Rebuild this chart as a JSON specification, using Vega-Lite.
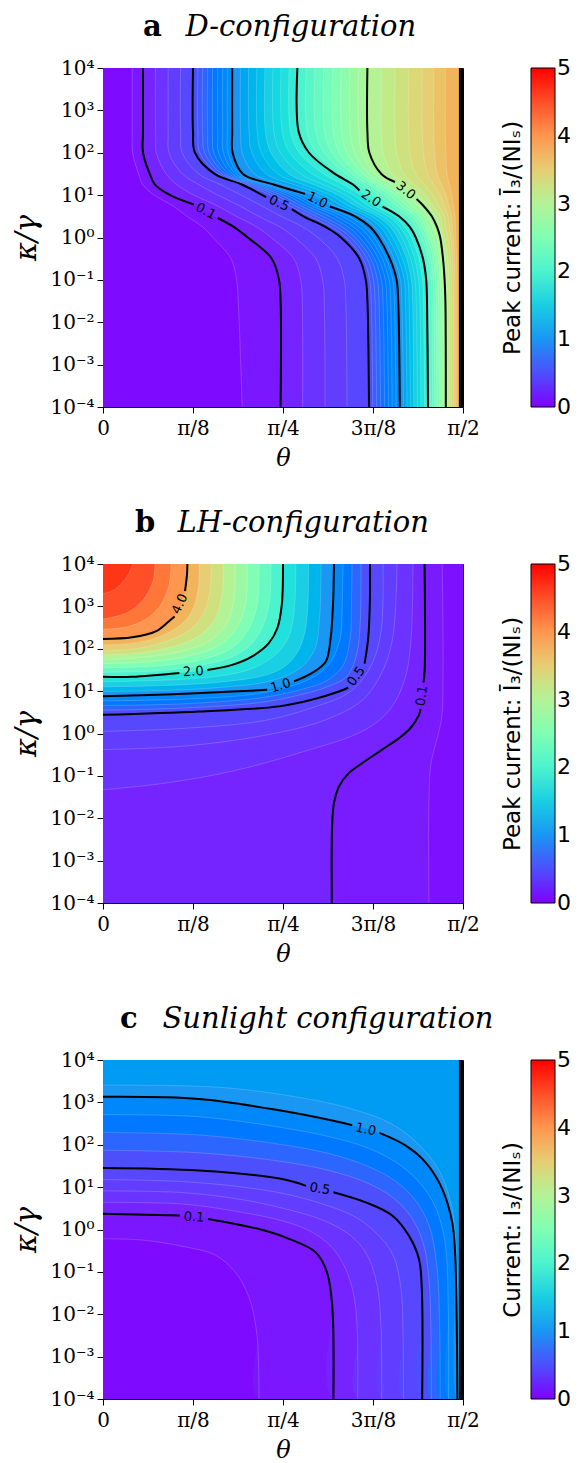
{
"$schema":"https://vega.github.io/schema/vega-lite/v6.json",
"background":"white",
"padding":{"left":12,"top":12,"right":0,"bottom":0},
"spacing":37,
"config":{
 "font":"DejaVu Sans",
 "view":{"stroke":"black","strokeWidth":1},
 "axis":{"grid":false,"domainColor":"black","domainWidth":1,"tickColor":"black","tickSize":6,"tickWidth":1,"labelFont":"DejaVu Serif","labelFontSize":20,"labelColor":"black","labelPadding":3,"labelFlush":false,"labelOverlap":false,"labelBound":false,"titleFont":"DejaVu Serif","titleFontStyle":"italic","titleFontWeight":"normal","titleFontSize":24,"titleColor":"black"},
 "axisY":{"titlePadding":8,"titleFontSize":29},
 "axisX":{"titlePadding":8,"labelPadding":5},
 "legend":{"direction":"vertical","gradientLength":339,"gradientThickness":24,"titleOrient":"left","titleAnchor":"middle","titleLimit":500,"titleFont":"DejaVu Sans","titleFontSize":23,"titleFontWeight":"normal","titleColor":"black","titlePadding":5,"labelFont":"DejaVu Sans","labelFontSize":22,"labelColor":"black","labelOffset":6,"labelBaseline":"middle","gradientStrokeColor":"black","gradientStrokeWidth":1,"offset":39},
 "title":{"font":"DejaVu Serif","fontSize":29,"fontWeight":"bold","color":"black","anchor":"start","frame":"group","subtitleFont":"DejaVu Serif","subtitleFontSize":29,"subtitleFontStyle":"italic","subtitleFontWeight":"normal","subtitleColor":"black","subtitlePadding":-29,"offset":16},
 "text":{"font":"DejaVu Sans","fontSize":13,"color":"black","align":"center","baseline":"middle"}
},
"datasets":{
"a":[
{"L":0.02,"t":0,"k":4},{"L":0.02,"t":0,"k":-4},
{"L":0.05,"t":7.3,"k":4},{"L":0.05,"t":7.3,"k":2.5},{"L":0.05,"t":7.4,"k":2},{"L":0.05,"t":8.9,"k":1.5},{"L":0.05,"t":9.9,"k":1.25},{"L":0.05,"t":12.8,"k":1},{"L":0.05,"t":17.4,"k":0.75},{"L":0.05,"t":21,"k":0.5},{"L":0.05,"t":24.9,"k":0.25},{"L":0.05,"t":27.5,"k":0},{"L":0.05,"t":32,"k":-0.5},{"L":0.05,"t":33.4,"k":-1},{"L":0.05,"t":33.8,"k":-1.5},{"L":0.05,"t":34.8,"k":-4},
{"L":0.1,"t":10,"k":4,"s":0},{"L":0.1,"t":10,"k":2.5,"s":0},{"L":0.1,"t":10,"k":2,"s":0},{"L":0.1,"t":11.7,"k":1.5,"s":0},{"L":0.1,"t":13,"k":1.25,"s":0},{"L":0.1,"t":16.8,"k":1,"s":0},{"L":0.1,"t":22.7,"k":0.78,"s":0},{"L":0.1,"t":28.7,"k":0.46,"s":1},{"L":0.1,"t":32.7,"k":0.25,"s":1},{"L":0.1,"t":36.2,"k":0,"s":1},{"L":0.1,"t":42.2,"k":-0.5,"s":1},{"L":0.1,"t":44,"k":-1,"s":1},{"L":0.1,"t":44.4,"k":-1.5,"s":1},{"L":0.1,"t":44.4,"k":-4,"s":1},
{"L":0.2,"t":13.1,"k":4},{"L":0.2,"t":13.1,"k":2.5},{"L":0.2,"t":13.3,"k":2},{"L":0.2,"t":15.8,"k":1.5},{"L":0.2,"t":18.4,"k":1.25},{"L":0.2,"t":22.7,"k":1},{"L":0.2,"t":28.5,"k":0.75},{"L":0.2,"t":33.3,"k":0.5},{"L":0.2,"t":38.4,"k":0.25},{"L":0.2,"t":42,"k":0},{"L":0.2,"t":47.7,"k":-0.5},{"L":0.2,"t":49.4,"k":-1},{"L":0.2,"t":49.8,"k":-1.5},{"L":0.2,"t":49.9,"k":-4},
{"L":0.3,"t":16.3,"k":4},{"L":0.3,"t":16.3,"k":2.5},{"L":0.3,"t":16.5,"k":2},{"L":0.3,"t":19.8,"k":1.5},{"L":0.3,"t":23.9,"k":1.25},{"L":0.3,"t":28.7,"k":1},{"L":0.3,"t":34.1,"k":0.75},{"L":0.3,"t":38.9,"k":0.5},{"L":0.3,"t":44.2,"k":0.25},{"L":0.3,"t":47.9,"k":0},{"L":0.3,"t":53.2,"k":-0.5},{"L":0.3,"t":54.9,"k":-1},{"L":0.3,"t":55.3,"k":-1.5},{"L":0.3,"t":55.5,"k":-4},
{"L":0.4,"t":19.4,"k":4},{"L":0.4,"t":19.4,"k":2.5},{"L":0.4,"t":19.8,"k":2},{"L":0.4,"t":23.9,"k":1.5},{"L":0.4,"t":29.3,"k":1.25},{"L":0.4,"t":34.6,"k":1},{"L":0.4,"t":39.6,"k":0.75},{"L":0.4,"t":44.5,"k":0.5},{"L":0.4,"t":49.9,"k":0.25},{"L":0.4,"t":53.7,"k":0},{"L":0.4,"t":58.6,"k":-0.5},{"L":0.4,"t":60.3,"k":-1},{"L":0.4,"t":60.7,"k":-1.5},{"L":0.4,"t":61,"k":-4},
{"L":0.5,"t":22.5,"k":4,"s":0},{"L":0.5,"t":22.5,"k":2.5,"s":0},{"L":0.5,"t":23,"k":2,"s":0},{"L":0.5,"t":27.9,"k":1.5,"s":0},{"L":0.5,"t":34.7,"k":1.25,"s":0},{"L":0.5,"t":40.8,"k":0.95,"s":0},{"L":0.5,"t":47.2,"k":0.67,"s":1},{"L":0.5,"t":50.1,"k":0.5,"s":1},{"L":0.5,"t":55.6,"k":0.25,"s":1},{"L":0.5,"t":59.5,"k":0,"s":1},{"L":0.5,"t":64.1,"k":-0.5,"s":1},{"L":0.5,"t":65.7,"k":-1,"s":1},{"L":0.5,"t":66.1,"k":-1.5,"s":1},{"L":0.5,"t":66.5,"k":-4,"s":1},
{"L":0.5625,"t":23.7,"k":4},{"L":0.5625,"t":23.7,"k":2.5},{"L":0.5625,"t":24.2,"k":2},{"L":0.5625,"t":28.8,"k":1.5},{"L":0.5625,"t":35.7,"k":1.25},{"L":0.5625,"t":41.85,"k":1},{"L":0.5625,"t":46.6,"k":0.75},{"L":0.5625,"t":51.7,"k":0.5},{"L":0.5625,"t":57,"k":0.25},{"L":0.5625,"t":60.7,"k":0},{"L":0.5625,"t":65.05,"k":-0.5},{"L":0.5625,"t":66.65,"k":-1},{"L":0.5625,"t":67.05,"k":-1.5},{"L":0.5625,"t":67.45,"k":-4},
{"L":0.625,"t":24.9,"k":4},{"L":0.625,"t":24.9,"k":2.5},{"L":0.625,"t":25.4,"k":2},{"L":0.625,"t":29.7,"k":1.5},{"L":0.625,"t":36.7,"k":1.25},{"L":0.625,"t":43.2,"k":1},{"L":0.625,"t":48,"k":0.75},{"L":0.625,"t":53.3,"k":0.5},{"L":0.625,"t":58.4,"k":0.25},{"L":0.625,"t":61.9,"k":0},{"L":0.625,"t":66,"k":-0.5},{"L":0.625,"t":67.6,"k":-1},{"L":0.625,"t":68,"k":-1.5},{"L":0.625,"t":68.4,"k":-4},
{"L":0.6875,"t":26.15,"k":4},{"L":0.6875,"t":26.15,"k":2.5},{"L":0.6875,"t":26.55,"k":2},{"L":0.6875,"t":30.6,"k":1.5},{"L":0.6875,"t":37.7,"k":1.25},{"L":0.6875,"t":44.55,"k":1},{"L":0.6875,"t":49.4,"k":0.75},{"L":0.6875,"t":54.95,"k":0.5},{"L":0.6875,"t":59.8,"k":0.25},{"L":0.6875,"t":63.05,"k":0},{"L":0.6875,"t":66.95,"k":-0.5},{"L":0.6875,"t":68.6,"k":-1},{"L":0.6875,"t":69,"k":-1.5},{"L":0.6875,"t":69.4,"k":-4},
{"L":0.75,"t":27.4,"k":4},{"L":0.75,"t":27.4,"k":2.5},{"L":0.75,"t":27.7,"k":2},{"L":0.75,"t":31.5,"k":1.5},{"L":0.75,"t":38.7,"k":1.25},{"L":0.75,"t":45.9,"k":1},{"L":0.75,"t":50.8,"k":0.75},{"L":0.75,"t":56.6,"k":0.5},{"L":0.75,"t":61.2,"k":0.25},{"L":0.75,"t":64.2,"k":0},{"L":0.75,"t":67.9,"k":-0.5},{"L":0.75,"t":69.6,"k":-1},{"L":0.75,"t":70,"k":-1.5},{"L":0.75,"t":70.4,"k":-4},
{"L":0.8125,"t":28.65,"k":4},{"L":0.8125,"t":28.65,"k":2.5},{"L":0.8125,"t":28.9,"k":2},{"L":0.8125,"t":32.35,"k":1.5},{"L":0.8125,"t":39.65,"k":1.25},{"L":0.8125,"t":47.2,"k":1},{"L":0.8125,"t":52.15,"k":0.75},{"L":0.8125,"t":58.2,"k":0.5},{"L":0.8125,"t":62.6,"k":0.25},{"L":0.8125,"t":65.4,"k":0},{"L":0.8125,"t":68.85,"k":-0.5},{"L":0.8125,"t":70.55,"k":-1},{"L":0.8125,"t":70.95,"k":-1.5},{"L":0.8125,"t":71.35,"k":-4},
{"L":0.875,"t":29.9,"k":4},{"L":0.875,"t":29.9,"k":2.5},{"L":0.875,"t":30.1,"k":2},{"L":0.875,"t":33.2,"k":1.5},{"L":0.875,"t":40.6,"k":1.25},{"L":0.875,"t":48.5,"k":1},{"L":0.875,"t":53.5,"k":0.75},{"L":0.875,"t":59.8,"k":0.5},{"L":0.875,"t":64,"k":0.25},{"L":0.875,"t":66.6,"k":0},{"L":0.875,"t":69.8,"k":-0.5},{"L":0.875,"t":71.5,"k":-1},{"L":0.875,"t":71.9,"k":-1.5},{"L":0.875,"t":72.3,"k":-4},
{"L":0.9375,"t":31.1,"k":4},{"L":0.9375,"t":31.1,"k":2.5},{"L":0.9375,"t":31.25,"k":2},{"L":0.9375,"t":34.1,"k":1.5},{"L":0.9375,"t":41.6,"k":1.25},{"L":0.9375,"t":49.85,"k":1},{"L":0.9375,"t":54.9,"k":0.75},{"L":0.9375,"t":61.4,"k":0.5},{"L":0.9375,"t":65.4,"k":0.25},{"L":0.9375,"t":67.75,"k":0},{"L":0.9375,"t":70.75,"k":-0.5},{"L":0.9375,"t":72.45,"k":-1},{"L":0.9375,"t":72.85,"k":-1.5},{"L":0.9375,"t":73.25,"k":-4},
{"L":1,"t":32.3,"k":4,"s":0},{"L":1,"t":32.3,"k":2.5,"s":0},{"L":1,"t":32.4,"k":2,"s":0},{"L":1,"t":35,"k":1.5,"s":0},{"L":1,"t":42.6,"k":1.25,"s":0},{"L":1,"t":50.5,"k":1.03,"s":0},{"L":1,"t":56.7,"k":0.73,"s":1},{"L":1,"t":63,"k":0.5,"s":1},{"L":1,"t":66.8,"k":0.25,"s":1},{"L":1,"t":68.9,"k":0,"s":1},{"L":1,"t":71.7,"k":-0.5,"s":1},{"L":1,"t":73.4,"k":-1,"s":1},{"L":1,"t":73.8,"k":-1.5,"s":1},{"L":1,"t":74.2,"k":-4,"s":1},
{"L":1.125,"t":34.35,"k":4},{"L":1.125,"t":34.4,"k":2.5},{"L":1.125,"t":34.8,"k":2},{"L":1.125,"t":37.9,"k":1.5},{"L":1.125,"t":45.1,"k":1.25},{"L":1.125,"t":53.1,"k":1},{"L":1.125,"t":57.95,"k":0.75},{"L":1.125,"t":64.4,"k":0.5},{"L":1.125,"t":68.05,"k":0.25},{"L":1.125,"t":70.05,"k":0},{"L":1.125,"t":72.75,"k":-0.5},{"L":1.125,"t":74.35,"k":-1},{"L":1.125,"t":74.7,"k":-1.5},{"L":1.125,"t":75.1,"k":-4},
{"L":1.25,"t":36.4,"k":4},{"L":1.25,"t":36.5,"k":2.5},{"L":1.25,"t":37.2,"k":2},{"L":1.25,"t":40.8,"k":1.5},{"L":1.25,"t":47.6,"k":1.25},{"L":1.25,"t":55,"k":1},{"L":1.25,"t":59.6,"k":0.75},{"L":1.25,"t":65.8,"k":0.5},{"L":1.25,"t":69.3,"k":0.25},{"L":1.25,"t":71.2,"k":0},{"L":1.25,"t":73.8,"k":-0.5},{"L":1.25,"t":75.3,"k":-1},{"L":1.25,"t":75.6,"k":-1.5},{"L":1.25,"t":76,"k":-4},
{"L":1.375,"t":38.45,"k":4},{"L":1.375,"t":38.55,"k":2.5},{"L":1.375,"t":39.6,"k":2},{"L":1.375,"t":43.65,"k":1.5},{"L":1.375,"t":50.1,"k":1.25},{"L":1.375,"t":56.9,"k":1},{"L":1.375,"t":61.3,"k":0.75},{"L":1.375,"t":67.15,"k":0.5},{"L":1.375,"t":70.55,"k":0.25},{"L":1.375,"t":72.4,"k":0},{"L":1.375,"t":74.85,"k":-0.5},{"L":1.375,"t":76.2,"k":-1},{"L":1.375,"t":76.5,"k":-1.5},{"L":1.375,"t":76.85,"k":-4},
{"L":1.5,"t":40.5,"k":4},{"L":1.5,"t":40.6,"k":2.5},{"L":1.5,"t":42,"k":2},{"L":1.5,"t":46.5,"k":1.5},{"L":1.5,"t":52.6,"k":1.25},{"L":1.5,"t":58.8,"k":1},{"L":1.5,"t":63,"k":0.75},{"L":1.5,"t":68.5,"k":0.5},{"L":1.5,"t":71.8,"k":0.25},{"L":1.5,"t":73.6,"k":0},{"L":1.5,"t":75.9,"k":-0.5},{"L":1.5,"t":77.1,"k":-1},{"L":1.5,"t":77.4,"k":-1.5},{"L":1.5,"t":77.7,"k":-4},
{"L":1.625,"t":42.5,"k":4},{"L":1.625,"t":42.7,"k":2.5},{"L":1.625,"t":44.35,"k":2},{"L":1.625,"t":49.4,"k":1.5},{"L":1.625,"t":55.05,"k":1.25},{"L":1.625,"t":60.7,"k":1},{"L":1.625,"t":64.65,"k":0.75},{"L":1.625,"t":69.9,"k":0.5},{"L":1.625,"t":73,"k":0.25},{"L":1.625,"t":74.75,"k":0},{"L":1.625,"t":76.9,"k":-0.5},{"L":1.625,"t":78,"k":-1},{"L":1.625,"t":78.3,"k":-1.5},{"L":1.625,"t":78.6,"k":-4},
{"L":1.75,"t":44.5,"k":4},{"L":1.75,"t":44.8,"k":2.5},{"L":1.75,"t":46.7,"k":2},{"L":1.75,"t":52.3,"k":1.5},{"L":1.75,"t":57.5,"k":1.25},{"L":1.75,"t":62.6,"k":1},{"L":1.75,"t":66.3,"k":0.75},{"L":1.75,"t":71.3,"k":0.5},{"L":1.75,"t":74.2,"k":0.25},{"L":1.75,"t":75.9,"k":0},{"L":1.75,"t":77.9,"k":-0.5},{"L":1.75,"t":78.9,"k":-1},{"L":1.75,"t":79.2,"k":-1.5},{"L":1.75,"t":79.5,"k":-4},
{"L":1.875,"t":46.55,"k":4},{"L":1.875,"t":46.85,"k":2.5},{"L":1.875,"t":49.1,"k":2},{"L":1.875,"t":55.15,"k":1.5},{"L":1.875,"t":60,"k":1.25},{"L":1.875,"t":64.45,"k":1},{"L":1.875,"t":67.95,"k":0.75},{"L":1.875,"t":72.65,"k":0.5},{"L":1.875,"t":75.45,"k":0.25},{"L":1.875,"t":77.05,"k":0},{"L":1.875,"t":78.95,"k":-0.5},{"L":1.875,"t":79.85,"k":-1},{"L":1.875,"t":80.1,"k":-1.5},{"L":1.875,"t":80.4,"k":-4},
{"L":2,"t":48.6,"k":4,"s":0},{"L":2,"t":48.9,"k":2.5,"s":0},{"L":2,"t":51.5,"k":2,"s":0},{"L":2,"t":58,"k":1.5,"s":0},{"L":2,"t":62.5,"k":1.25,"s":0},{"L":2,"t":64.1,"k":1.11,"s":0},{"L":2,"t":69.9,"k":0.73,"s":1},{"L":2,"t":74,"k":0.5,"s":1},{"L":2,"t":76.7,"k":0.25,"s":1},{"L":2,"t":78.2,"k":0,"s":1},{"L":2,"t":80,"k":-0.5,"s":1},{"L":2,"t":80.8,"k":-1,"s":1},{"L":2,"t":81,"k":-1.5,"s":1},{"L":2,"t":81.25,"k":-4,"s":1},
{"L":2.125,"t":50.8,"k":4},{"L":2.125,"t":51.05,"k":2.5},{"L":2.125,"t":53.4,"k":2},{"L":2.125,"t":59.4,"k":1.5},{"L":2.125,"t":63.85,"k":1.25},{"L":2.125,"t":67.65,"k":1},{"L":2.125,"t":70.85,"k":0.75},{"L":2.125,"t":75.05,"k":0.5},{"L":2.125,"t":77.5,"k":0.25},{"L":2.125,"t":78.9,"k":0},{"L":2.125,"t":80.65,"k":-0.5},{"L":2.125,"t":81.4,"k":-1},{"L":2.125,"t":81.6,"k":-1.5},{"L":2.125,"t":81.8,"k":-4},
{"L":2.25,"t":53,"k":4},{"L":2.25,"t":53.2,"k":2.5},{"L":2.25,"t":55.3,"k":2},{"L":2.25,"t":60.8,"k":1.5},{"L":2.25,"t":65.2,"k":1.25},{"L":2.25,"t":69,"k":1},{"L":2.25,"t":72.1,"k":0.75},{"L":2.25,"t":76.1,"k":0.5},{"L":2.25,"t":78.3,"k":0.25},{"L":2.25,"t":79.6,"k":0},{"L":2.25,"t":81.3,"k":-0.5},{"L":2.25,"t":82,"k":-1},{"L":2.25,"t":82.2,"k":-1.5},{"L":2.25,"t":82.4,"k":-4},
{"L":2.375,"t":55.2,"k":4},{"L":2.375,"t":55.35,"k":2.5},{"L":2.375,"t":57.2,"k":2},{"L":2.375,"t":62.25,"k":1.5},{"L":2.375,"t":66.55,"k":1.25},{"L":2.375,"t":70.4,"k":1},{"L":2.375,"t":73.4,"k":0.75},{"L":2.375,"t":77.15,"k":0.5},{"L":2.375,"t":79.1,"k":0.25},{"L":2.375,"t":80.35,"k":0},{"L":2.375,"t":81.9,"k":-0.5},{"L":2.375,"t":82.55,"k":-1},{"L":2.375,"t":82.75,"k":-1.5},{"L":2.375,"t":82.95,"k":-4},
{"L":2.5,"t":57.4,"k":4},{"L":2.5,"t":57.5,"k":2.5},{"L":2.5,"t":59.1,"k":2},{"L":2.5,"t":63.7,"k":1.5},{"L":2.5,"t":67.9,"k":1.25},{"L":2.5,"t":71.8,"k":1},{"L":2.5,"t":74.7,"k":0.75},{"L":2.5,"t":78.2,"k":0.5},{"L":2.5,"t":79.9,"k":0.25},{"L":2.5,"t":81.1,"k":0},{"L":2.5,"t":82.5,"k":-0.5},{"L":2.5,"t":83.1,"k":-1},{"L":2.5,"t":83.3,"k":-1.5},{"L":2.5,"t":83.5,"k":-4},
{"L":2.625,"t":59.55,"k":4},{"L":2.625,"t":59.65,"k":2.5},{"L":2.625,"t":61,"k":2},{"L":2.625,"t":65.1,"k":1.5},{"L":2.625,"t":69.2,"k":1.25},{"L":2.625,"t":73.15,"k":1},{"L":2.625,"t":75.95,"k":0.75},{"L":2.625,"t":79.2,"k":0.5},{"L":2.625,"t":80.65,"k":0.25},{"L":2.625,"t":81.8,"k":0},{"L":2.625,"t":83.15,"k":-0.5},{"L":2.625,"t":83.7,"k":-1},{"L":2.625,"t":83.9,"k":-1.5},{"L":2.625,"t":84.05,"k":-4},
{"L":2.75,"t":61.7,"k":4},{"L":2.75,"t":61.8,"k":2.5},{"L":2.75,"t":62.9,"k":2},{"L":2.75,"t":66.5,"k":1.5},{"L":2.75,"t":70.5,"k":1.25},{"L":2.75,"t":74.5,"k":1},{"L":2.75,"t":77.2,"k":0.75},{"L":2.75,"t":80.2,"k":0.5},{"L":2.75,"t":81.4,"k":0.25},{"L":2.75,"t":82.5,"k":0},{"L":2.75,"t":83.8,"k":-0.5},{"L":2.75,"t":84.3,"k":-1},{"L":2.75,"t":84.5,"k":-1.5},{"L":2.75,"t":84.6,"k":-4},
{"L":2.875,"t":63.9,"k":4},{"L":2.875,"t":63.95,"k":2.5},{"L":2.875,"t":64.75,"k":2},{"L":2.875,"t":68.05,"k":1.5},{"L":2.875,"t":72.15,"k":1.25},{"L":2.875,"t":75.8,"k":1},{"L":2.875,"t":78.65,"k":0.75},{"L":2.875,"t":81.2,"k":0.5},{"L":2.875,"t":82.45,"k":0.25},{"L":2.875,"t":83.4,"k":0},{"L":2.875,"t":84.4,"k":-0.5},{"L":2.875,"t":84.85,"k":-1},{"L":2.875,"t":85.05,"k":-1.5},{"L":2.875,"t":85.15,"k":-4},
{"L":3,"t":66.1,"k":4,"s":0},{"L":3,"t":66.1,"k":2.5,"s":0},{"L":3,"t":66.6,"k":2,"s":0},{"L":3,"t":69.6,"k":1.5,"s":0},{"L":3,"t":73,"k":1.31,"s":0},{"L":3,"t":78.4,"k":0.91,"s":1},{"L":3,"t":80.1,"k":0.75,"s":1},{"L":3,"t":82.2,"k":0.5,"s":1},{"L":3,"t":83.5,"k":0.25,"s":1},{"L":3,"t":84.3,"k":0,"s":1},{"L":3,"t":85,"k":-0.5,"s":1},{"L":3,"t":85.4,"k":-1,"s":1},{"L":3,"t":85.6,"k":-1.5,"s":1},{"L":3,"t":85.7,"k":-4,"s":1},
{"L":3.125,"t":69.55,"k":4},{"L":3.125,"t":69.55,"k":2.5},{"L":3.125,"t":70,"k":2},{"L":3.125,"t":72.4,"k":1.5},{"L":3.125,"t":75.85,"k":1.25},{"L":3.125,"t":78.9,"k":1},{"L":3.125,"t":81.3,"k":0.75},{"L":3.125,"t":83.25,"k":0.5},{"L":3.125,"t":84.15,"k":0.25},{"L":3.125,"t":84.85,"k":0},{"L":3.125,"t":85.6,"k":-0.5},{"L":3.125,"t":85.95,"k":-1},{"L":3.125,"t":86.1,"k":-1.5},{"L":3.125,"t":86.2,"k":-4},
{"L":3.25,"t":73,"k":4},{"L":3.25,"t":73,"k":2.5},{"L":3.25,"t":73.4,"k":2},{"L":3.25,"t":75.2,"k":1.5},{"L":3.25,"t":77.9,"k":1.25},{"L":3.25,"t":80.7,"k":1},{"L":3.25,"t":82.5,"k":0.75},{"L":3.25,"t":84.3,"k":0.5},{"L":3.25,"t":84.8,"k":0.25},{"L":3.25,"t":85.4,"k":0},{"L":3.25,"t":86.2,"k":-0.5},{"L":3.25,"t":86.5,"k":-1},{"L":3.25,"t":86.6,"k":-1.5},{"L":3.25,"t":86.7,"k":-4},
{"L":3.375,"t":76.4,"k":4},{"L":3.375,"t":76.4,"k":2.5},{"L":3.375,"t":76.75,"k":2},{"L":3.375,"t":78.15,"k":1.5},{"L":3.375,"t":80.3,"k":1.25},{"L":3.375,"t":82.5,"k":1},{"L":3.375,"t":83.9,"k":0.75},{"L":3.375,"t":85.3,"k":0.5},{"L":3.375,"t":85.7,"k":0.25},{"L":3.375,"t":86.2,"k":0},{"L":3.375,"t":86.8,"k":-0.5},{"L":3.375,"t":87.05,"k":-1},{"L":3.375,"t":87.1,"k":-1.5},{"L":3.375,"t":87.2,"k":-4},
{"L":3.5,"t":79.8,"k":4},{"L":3.5,"t":79.8,"k":2.5},{"L":3.5,"t":80.1,"k":2},{"L":3.5,"t":81.1,"k":1.5},{"L":3.5,"t":82.7,"k":1.25},{"L":3.5,"t":84.3,"k":1},{"L":3.5,"t":85.3,"k":0.75},{"L":3.5,"t":86.3,"k":0.5},{"L":3.5,"t":86.6,"k":0.25},{"L":3.5,"t":87,"k":0},{"L":3.5,"t":87.4,"k":-0.5},{"L":3.5,"t":87.6,"k":-1},{"L":3.5,"t":87.6,"k":-1.5},{"L":3.5,"t":87.7,"k":-4},
{"L":3.625,"t":82.7,"k":4},{"L":3.625,"t":82.7,"k":2.5},{"L":3.625,"t":82.9,"k":2},{"L":3.625,"t":83.55,"k":1.5},{"L":3.625,"t":84.65,"k":1.25},{"L":3.625,"t":85.75,"k":1},{"L":3.625,"t":86.45,"k":0.75},{"L":3.625,"t":87.15,"k":0.5},{"L":3.625,"t":87.35,"k":0.25},{"L":3.625,"t":87.6,"k":0},{"L":3.625,"t":87.9,"k":-0.5},{"L":3.625,"t":88.05,"k":-1},{"L":3.625,"t":88.05,"k":-1.5},{"L":3.625,"t":88.1,"k":-4},
{"L":3.75,"t":85.6,"k":4},{"L":3.75,"t":85.6,"k":2.5},{"L":3.75,"t":85.7,"k":2},{"L":3.75,"t":86,"k":1.5},{"L":3.75,"t":86.6,"k":1.25},{"L":3.75,"t":87.2,"k":1},{"L":3.75,"t":87.6,"k":0.75},{"L":3.75,"t":88,"k":0.5},{"L":3.75,"t":88.1,"k":0.25},{"L":3.75,"t":88.2,"k":0},{"L":3.75,"t":88.4,"k":-0.5},{"L":3.75,"t":88.5,"k":-1},{"L":3.75,"t":88.5,"k":-1.5},{"L":3.75,"t":88.5,"k":-4}
],
"b":[
{"L":0.03,"t":90,"k":4},{"L":0.03,"t":90,"k":-4},
{"L":0.06,"t":84.8,"k":4},{"L":0.06,"t":84.8,"k":0.5},{"L":0.06,"t":84.1,"k":0.09},{"L":0.06,"t":82,"k":-0.7},{"L":0.06,"t":81.5,"k":-1.5},{"L":0.06,"t":81.5,"k":-4},
{"L":0.1,"t":80.4,"k":4,"s":0},{"L":0.1,"t":80.4,"k":1.47,"s":0},{"L":0.1,"t":80.1,"k":1.2,"s":0},{"L":0.1,"t":79.4,"k":0.58,"s":1},{"L":0.1,"t":79,"k":0.44,"s":1},{"L":0.1,"t":76.9,"k":0.13,"s":1},{"L":0.1,"t":74,"k":-0.11,"s":1},{"L":0.1,"t":69.8,"k":-0.38,"s":1},{"L":0.1,"t":64.8,"k":-0.7,"s":1},{"L":0.1,"t":61.5,"k":-0.93,"s":1},{"L":0.1,"t":59,"k":-1.25,"s":1},{"L":0.1,"t":57.75,"k":-1.64,"s":1},{"L":0.1,"t":57.3,"k":-2.11,"s":1},{"L":0.1,"t":57.2,"k":-4,"s":1},
{"L":0.2,"t":0,"k":-1.33},{"L":0.2,"t":15.7,"k":-1.17},{"L":0.2,"t":32.3,"k":-0.89},{"L":0.2,"t":49,"k":-0.46},{"L":0.2,"t":65.6,"k":0.09},{"L":0.2,"t":72,"k":0.6},{"L":0.2,"t":75.5,"k":1.3},{"L":0.2,"t":77,"k":2.2},{"L":0.2,"t":77.5,"k":4},
{"L":0.3,"t":0,"k":-0.38},{"L":0.3,"t":20,"k":-0.3},{"L":0.3,"t":40,"k":-0.05},{"L":0.3,"t":55,"k":0.3},{"L":0.3,"t":65,"k":0.8},{"L":0.3,"t":70,"k":1.5},{"L":0.3,"t":72.5,"k":2.3},{"L":0.3,"t":73.5,"k":4},
{"L":0.4,"t":0,"k":0.05},{"L":0.4,"t":20,"k":0.12},{"L":0.4,"t":40,"k":0.3},{"L":0.4,"t":52,"k":0.6},{"L":0.4,"t":62,"k":1},{"L":0.4,"t":67,"k":1.6},{"L":0.4,"t":69.5,"k":2.4},{"L":0.4,"t":70,"k":4},
{"L":0.5,"t":0,"k":0.44,"s":0},{"L":0.5,"t":24,"k":0.52,"s":0},{"L":0.5,"t":44,"k":0.64,"s":0},{"L":0.5,"t":52.3,"k":0.8,"s":0},{"L":0.5,"t":59,"k":0.99,"s":0},{"L":0.5,"t":61.3,"k":1.08,"s":0},{"L":0.5,"t":65.4,"k":1.65,"s":1},{"L":0.5,"t":66.3,"k":2.25,"s":1},{"L":0.5,"t":66.7,"k":3.04,"s":1},{"L":0.5,"t":66.75,"k":4,"s":1},
{"L":0.625,"t":0,"k":0.55},{"L":0.625,"t":20,"k":0.6},{"L":0.625,"t":40,"k":0.74},{"L":0.625,"t":50,"k":0.93},{"L":0.625,"t":56,"k":1.1},{"L":0.625,"t":61,"k":1.35},{"L":0.625,"t":63.5,"k":1.9},{"L":0.625,"t":64.3,"k":2.6},{"L":0.625,"t":64.5,"k":4},
{"L":0.75,"t":0,"k":0.66},{"L":0.75,"t":20,"k":0.7},{"L":0.75,"t":40,"k":0.85},{"L":0.75,"t":50,"k":1.05},{"L":0.75,"t":56,"k":1.25},{"L":0.75,"t":60,"k":1.6},{"L":0.75,"t":61.8,"k":2.25},{"L":0.75,"t":62.1,"k":3},{"L":0.75,"t":62.25,"k":4},
{"L":0.875,"t":0,"k":0.77},{"L":0.875,"t":20,"k":0.81},{"L":0.875,"t":38,"k":0.93},{"L":0.875,"t":47,"k":1.12},{"L":0.875,"t":53,"k":1.35},{"L":0.875,"t":57,"k":1.7},{"L":0.875,"t":59.3,"k":2.25},{"L":0.875,"t":59.8,"k":3},{"L":0.875,"t":60,"k":4},
{"L":1,"t":0,"k":0.88,"s":0},{"L":1,"t":15.7,"k":0.92,"s":0},{"L":1,"t":32.3,"k":0.99,"s":0},{"L":1,"t":41.05,"k":1.03,"s":0},{"L":1,"t":47.75,"k":1.23,"s":1},{"L":1,"t":52.3,"k":1.43,"s":1},{"L":1,"t":55.7,"k":1.7,"s":1},{"L":1,"t":56.9,"k":2.25,"s":1},{"L":1,"t":57.5,"k":3.04,"s":1},{"L":1,"t":57.75,"k":4,"s":1},
{"L":1.25,"t":0,"k":0.99},{"L":1.25,"t":20,"k":1.03},{"L":1.25,"t":32,"k":1.11},{"L":1.25,"t":40,"k":1.2},{"L":1.25,"t":46,"k":1.37},{"L":1.25,"t":50,"k":1.6},{"L":1.25,"t":53,"k":2},{"L":1.25,"t":54.2,"k":2.8},{"L":1.25,"t":54.5,"k":4},
{"L":1.5,"t":0,"k":1.1},{"L":1.5,"t":20,"k":1.15},{"L":1.5,"t":32,"k":1.24},{"L":1.5,"t":40,"k":1.36},{"L":1.5,"t":45,"k":1.55},{"L":1.5,"t":48.5,"k":1.9},{"L":1.5,"t":50.5,"k":2.4},{"L":1.5,"t":51.3,"k":3.2},{"L":1.5,"t":51.4,"k":4},
{"L":1.75,"t":0,"k":1.22},{"L":1.75,"t":20,"k":1.28},{"L":1.75,"t":32,"k":1.4},{"L":1.75,"t":38,"k":1.56},{"L":1.75,"t":43,"k":1.85},{"L":1.75,"t":46.3,"k":2.25},{"L":1.75,"t":47.8,"k":2.9},{"L":1.75,"t":48.2,"k":4},
{"L":2,"t":0,"k":1.34,"s":0},{"L":2,"t":7.3,"k":1.34,"s":0},{"L":2,"t":19.1,"k":1.43,"s":0},{"L":2,"t":26.1,"k":1.5,"s":1},{"L":2,"t":32.3,"k":1.62,"s":1},{"L":2,"t":37.3,"k":1.82,"s":1},{"L":2,"t":41.5,"k":2.14,"s":1},{"L":2,"t":43.6,"k":2.49,"s":1},{"L":2,"t":44.7,"k":3.04,"s":1},{"L":2,"t":45,"k":4,"s":1},
{"L":2.25,"t":0,"k":1.445},{"L":2.25,"t":15,"k":1.49},{"L":2.25,"t":25,"k":1.62},{"L":2.25,"t":32,"k":1.8},{"L":2.25,"t":37,"k":2.1},{"L":2.25,"t":40,"k":2.55},{"L":2.25,"t":41.6,"k":3.1},{"L":2.25,"t":42,"k":4},
{"L":2.5,"t":0,"k":1.55},{"L":2.5,"t":15,"k":1.6},{"L":2.5,"t":25,"k":1.75},{"L":2.5,"t":32,"k":2},{"L":2.5,"t":36,"k":2.4},{"L":2.5,"t":38.5,"k":3},{"L":2.5,"t":39,"k":4},
{"L":2.75,"t":0,"k":1.65},{"L":2.75,"t":12,"k":1.7},{"L":2.75,"t":22,"k":1.84},{"L":2.75,"t":29,"k":2.08},{"L":2.75,"t":33.5,"k":2.5},{"L":2.75,"t":35.7,"k":3.1},{"L":2.75,"t":36,"k":4},
{"L":3,"t":0,"k":1.75},{"L":3,"t":10,"k":1.8},{"L":3,"t":20,"k":1.95},{"L":3,"t":27,"k":2.2},{"L":3,"t":31,"k":2.6},{"L":3,"t":32.8,"k":3.2},{"L":3,"t":33,"k":4},
{"L":3.25,"t":0,"k":1.85},{"L":3.25,"t":9,"k":1.9},{"L":3.25,"t":17.5,"k":2.05},{"L":3.25,"t":24,"k":2.3},{"L":3.25,"t":28,"k":2.7},{"L":3.25,"t":29.8,"k":3.3},{"L":3.25,"t":30,"k":4},
{"L":3.5,"t":0,"k":1.95},{"L":3.5,"t":8,"k":2},{"L":3.5,"t":15,"k":2.15},{"L":3.5,"t":21,"k":2.4},{"L":3.5,"t":25,"k":2.8},{"L":3.5,"t":26.8,"k":3.4},{"L":3.5,"t":27,"k":4},
{"L":3.75,"t":0,"k":2.09},{"L":3.75,"t":7.5,"k":2.13},{"L":3.75,"t":14,"k":2.28},{"L":3.75,"t":18.5,"k":2.5},{"L":3.75,"t":22,"k":2.85},{"L":3.75,"t":23.8,"k":3.4},{"L":3.75,"t":24,"k":4},
{"L":4,"t":0,"k":2.23,"s":0},{"L":4,"t":7.3,"k":2.27,"s":0},{"L":4,"t":13.2,"k":2.41,"s":0},{"L":4,"t":16.5,"k":2.65,"s":0},{"L":4,"t":17.9,"k":2.76,"s":0},{"L":4,"t":20.5,"k":3.36,"s":1},{"L":4,"t":21,"k":3.75,"s":1},{"L":4,"t":21.1,"k":4,"s":1},
{"L":4.25,"t":0,"k":2.46},{"L":4.25,"t":6.5,"k":2.53},{"L":4.25,"t":11.5,"k":2.75},{"L":4.25,"t":14.5,"k":3.05},{"L":4.25,"t":16.5,"k":3.5},{"L":4.25,"t":17,"k":4},
{"L":4.5,"t":0,"k":2.7},{"L":4.5,"t":6,"k":2.85},{"L":4.5,"t":10,"k":3.15},{"L":4.5,"t":12.5,"k":3.6},{"L":4.5,"t":13,"k":4},
{"L":4.75,"t":0,"k":3.3},{"L":4.75,"t":3,"k":3.4},{"L":4.75,"t":6,"k":3.7},{"L":4.75,"t":7.5,"k":4}
],
"c":[
{"L":0.02,"t":0,"k":-4},{"L":0.02,"t":90,"k":-4},
{"L":0.05,"t":0,"k":-0.22},{"L":0.05,"t":10,"k":-0.25},{"L":0.05,"t":20,"k":-0.4},{"L":0.05,"t":28,"k":-0.6},{"L":0.05,"t":33,"k":-1},{"L":0.05,"t":36.5,"k":-1.6},{"L":0.05,"t":38.5,"k":-2.5},{"L":0.05,"t":39,"k":-4},{"L":0.05,"t":90,"k":-4},
{"L":0.1,"t":0,"k":0.37,"s":0},{"L":0.1,"t":19.2,"k":0.33,"s":0},{"L":0.1,"t":26.3,"k":0.25,"s":1},{"L":0.1,"t":39,"k":0.01,"s":1},{"L":0.1,"t":46.5,"k":-0.22,"s":1},{"L":0.1,"t":53.2,"k":-0.54,"s":1},{"L":0.1,"t":56,"k":-1.01,"s":1},{"L":0.1,"t":57.3,"k":-1.8,"s":1},{"L":0.1,"t":57.6,"k":-4,"s":1},{"L":0.1,"t":90,"k":-4},
{"L":0.2,"t":0,"k":0.64},{"L":0.2,"t":20,"k":0.6},{"L":0.2,"t":35,"k":0.4},{"L":0.2,"t":45,"k":0.2},{"L":0.2,"t":52,"k":-0.05},{"L":0.2,"t":57,"k":-0.4},{"L":0.2,"t":60.5,"k":-0.9},{"L":0.2,"t":62.8,"k":-1.6},{"L":0.2,"t":63.6,"k":-2.5},{"L":0.2,"t":63.7,"k":-4},{"L":0.2,"t":90,"k":-4},
{"L":0.3,"t":0,"k":0.91},{"L":0.3,"t":20,"k":0.87},{"L":0.3,"t":35,"k":0.7},{"L":0.3,"t":45,"k":0.5},{"L":0.3,"t":55,"k":0.22},{"L":0.3,"t":62,"k":-0.15},{"L":0.3,"t":66,"k":-0.6},{"L":0.3,"t":68.5,"k":-1.3},{"L":0.3,"t":69.5,"k":-2.3},{"L":0.3,"t":69.7,"k":-4},{"L":0.3,"t":90,"k":-4},
{"L":0.4,"t":0,"k":1.18},{"L":0.4,"t":20,"k":1.13},{"L":0.4,"t":35,"k":1},{"L":0.4,"t":45,"k":0.85},{"L":0.4,"t":55,"k":0.6},{"L":0.4,"t":63,"k":0.3},{"L":0.4,"t":68.5,"k":-0.1},{"L":0.4,"t":72.5,"k":-0.6},{"L":0.4,"t":74.5,"k":-1.4},{"L":0.4,"t":75,"k":-2.5},{"L":0.4,"t":75.1,"k":-4},{"L":0.4,"t":90,"k":-4},
{"L":0.5,"t":0,"k":1.45,"s":0},{"L":0.5,"t":24,"k":1.39,"s":0},{"L":0.5,"t":44.8,"k":1.19,"s":0},{"L":0.5,"t":50.75,"k":1.03,"s":0},{"L":0.5,"t":57.6,"k":0.88,"s":1},{"L":0.5,"t":65.7,"k":0.64,"s":1},{"L":0.5,"t":72.3,"k":0.33,"s":1},{"L":0.5,"t":76.5,"k":-0.15,"s":1},{"L":0.5,"t":79,"k":-0.7,"s":1},{"L":0.5,"t":79.7,"k":-1.4,"s":1},{"L":0.5,"t":79.8,"k":-4,"s":1},{"L":0.5,"t":90,"k":-4},
{"L":0.625,"t":0,"k":1.87},{"L":0.625,"t":24,"k":1.81},{"L":0.625,"t":45,"k":1.6},{"L":0.625,"t":57,"k":1.38},{"L":0.625,"t":66,"k":1.1},{"L":0.625,"t":72.5,"k":0.75},{"L":0.625,"t":77,"k":0.3},{"L":0.625,"t":80,"k":-0.3},{"L":0.625,"t":81.5,"k":-1.2},{"L":0.625,"t":82,"k":-2.5},{"L":0.625,"t":82.1,"k":-4},{"L":0.625,"t":90,"k":-4},
{"L":0.75,"t":0,"k":2.29},{"L":0.75,"t":24,"k":2.23},{"L":0.75,"t":45,"k":2},{"L":0.75,"t":57,"k":1.78},{"L":0.75,"t":66,"k":1.5},{"L":0.75,"t":73,"k":1.15},{"L":0.75,"t":78,"k":0.7},{"L":0.75,"t":81.5,"k":0.1},{"L":0.75,"t":83.5,"k":-0.9},{"L":0.75,"t":84.2,"k":-2.5},{"L":0.75,"t":84.3,"k":-4},{"L":0.75,"t":90,"k":-4},
{"L":0.875,"t":0,"k":2.71},{"L":0.875,"t":24,"k":2.66},{"L":0.875,"t":45,"k":2.4},{"L":0.875,"t":57,"k":2.18},{"L":0.875,"t":66,"k":1.93},{"L":0.875,"t":73.5,"k":1.57},{"L":0.875,"t":79,"k":1.12},{"L":0.875,"t":83,"k":0.55},{"L":0.875,"t":85.5,"k":-0.3},{"L":0.875,"t":86.3,"k":-1.8},{"L":0.875,"t":86.4,"k":-4},{"L":0.875,"t":90,"k":-4},
{"L":1,"t":0,"k":3.13,"s":0},{"L":1,"t":24,"k":3.08,"s":0},{"L":1,"t":44.8,"k":2.8,"s":0},{"L":1,"t":57.3,"k":2.57,"s":0},{"L":1,"t":62.3,"k":2.46,"s":0},{"L":1,"t":69.1,"k":2.28,"s":1},{"L":1,"t":75.7,"k":1.98,"s":1},{"L":1,"t":80.7,"k":1.58,"s":1},{"L":1,"t":84.8,"k":0.96,"s":1},{"L":1,"t":87.3,"k":0.17,"s":1},{"L":1,"t":88,"k":-0.5,"s":1},{"L":1,"t":88.6,"k":-4,"s":1},{"L":1,"t":90,"k":-4},
{"L":1.05,"t":0,"k":3.41},{"L":1.05,"t":30,"k":3.35},{"L":1.05,"t":50,"k":3.1},{"L":1.05,"t":62,"k":2.85},{"L":1.05,"t":72,"k":2.5},{"L":1.05,"t":79,"k":2},{"L":1.05,"t":84,"k":1.4},{"L":1.05,"t":87,"k":0.6},{"L":1.05,"t":88.3,"k":-0.5},{"L":1.05,"t":88.8,"k":-4},{"L":1.05,"t":90,"k":-4}
],
"edge":[{"id":1,"t":89.2,"k":4},{"id":1,"t":89.2,"k":-4},{"id":2,"t":89.55,"k":4},{"id":2,"t":89.55,"k":-4},{"id":3,"t":89.9,"k":4},{"id":3,"t":89.9,"k":-4}],
"labs":[
{"p":"a","t":25.7,"k":0.62,"txt":"0.1"},{"p":"a","t":44,"k":0.81,"txt":"0.5"},{"p":"a","t":53.6,"k":0.88,"txt":"1.0"},{"p":"a","t":67,"k":0.92,"txt":"2.0"},{"p":"a","t":75.7,"k":1.11,"txt":"3.0"},
{"p":"b","t":19.2,"k":3.06,"txt":"4.0"},{"p":"b","t":22.6,"k":1.46,"txt":"2.0"},{"p":"b","t":44.4,"k":1.13,"txt":"1.0"},{"p":"b","t":63.3,"k":1.35,"txt":"0.5"},{"p":"b","t":79.7,"k":0.89,"txt":"0.1"},
{"p":"c","t":65.7,"k":2.36,"txt":"1.0"},{"p":"c","t":54.2,"k":0.96,"txt":"0.5"},{"p":"c","t":22.75,"k":0.29,"txt":"0.1"}
]
},
"vconcat":[
{
 "width":360,"height":339,
 "title":{"text":"a","subtitle":"\u2800\u2800D-configuration","dx":40},
 "encoding":{
  "x":{"field":"t","type":"quantitative","stack":null,"scale":{"domain":[0,90],"nice":false,"zero":false},"axis":{"values":[0,22.5,45,67.5,90],"labelExpr":"datum.value==0?'0':datum.value==22.5?'π/8':datum.value==45?'π/4':datum.value==67.5?'3π/8':'π/2'","title":"θ"}},
  "y":{"field":"k","type":"quantitative","stack":null,"scale":{"domain":[-4,4],"nice":false,"zero":false},"axis":{"values":[-4,-3,-2,-1,0,1,2,3,4],"labelExpr":"datum.value==4?'10⁴':datum.value==3?'10³':datum.value==2?'10²':datum.value==1?'10¹':datum.value==0?'10⁰':datum.value==-1?'10⁻¹':datum.value==-2?'10⁻²':datum.value==-3?'10⁻³':'10⁻⁴'","title":"κ/γ"}}
 },
 "layer":[
  {"data":{"name":"a"},"mark":{"type":"area","orient":"horizontal","interpolate":"catmull-rom","clip":true},"encoding":{"x2":{"datum":90},"detail":{"field":"L","type":"nominal"},"color":{"field":"L","type":"quantitative","scale":{"domain":[0,0.5,1,1.25,1.5,2,2.5,3,3.5,4,4.5,5],"range":["#8000ff","#4d4ffc","#1a96f3","#00b4ec","#1acee3","#4df3ce","#80ffb4","#b3f396","#e6ce74","#ff964f","#ff4f28","#ff0000"]},"legend":{"title":"Peak current: Ī₃/(NIₛ)","values":[0,1,2,3,4,5],"encode":{"labels":{"update":{"baseline":{"value":"middle"}}}}}}}},
  {"data":{"name":"a"},"transform":[{"filter":"!isValid(datum.s) && datum.L>0.02"}],"mark":{"type":"line","color":"white","strokeWidth":0.6,"opacity":0.3,"interpolate":"catmull-rom","clip":true},"encoding":{"detail":{"field":"L","type":"nominal"},"order":{"field":"k","sort":"descending"}}},
  {"data":{"name":"a"},"transform":[{"filter":"isValid(datum.s)"}],"mark":{"type":"line","color":"black","strokeWidth":2,"interpolate":"catmull-rom","clip":true},"encoding":{"detail":[{"field":"L","type":"nominal"},{"field":"s","type":"nominal"}],"order":{"field":"k","sort":"descending"}}},
  {"data":{"name":"edge"},"mark":{"type":"line","color":"black","strokeWidth":1.8,"interpolate":"linear","clip":true},"encoding":{"detail":{"field":"id","type":"nominal"},"order":{"field":"k"}}},
  {"data":{"name":"labs"},"transform":[{"filter":"datum.p=='a'"}],"encoding":{"text":{"field":"txt"}},"layer":[
   {"transform":[{"filter":"datum.txt=='0.1'"}],"mark":{"type":"text","angle":29}},
   {"transform":[{"filter":"datum.txt=='0.5'"}],"mark":{"type":"text","angle":25}},
   {"transform":[{"filter":"datum.txt=='1.0'"}],"mark":{"type":"text","angle":27}},
   {"transform":[{"filter":"datum.txt=='2.0'"}],"mark":{"type":"text","angle":33}},
   {"transform":[{"filter":"datum.txt=='3.0'"}],"mark":{"type":"text","angle":40}}
  ]}
 ]
},
{
 "width":360,"height":339,
 "title":{"text":"b","subtitle":"\u2800\u2800LH-configuration","dx":32},
 "encoding":{
  "x":{"field":"t","type":"quantitative","stack":null,"scale":{"domain":[0,90],"nice":false,"zero":false},"axis":{"values":[0,22.5,45,67.5,90],"labelExpr":"datum.value==0?'0':datum.value==22.5?'π/8':datum.value==45?'π/4':datum.value==67.5?'3π/8':'π/2'","title":"θ"}},
  "y":{"field":"k","type":"quantitative","stack":null,"scale":{"domain":[-4,4],"nice":false,"zero":false},"axis":{"values":[-4,-3,-2,-1,0,1,2,3,4],"labelExpr":"datum.value==4?'10⁴':datum.value==3?'10³':datum.value==2?'10²':datum.value==1?'10¹':datum.value==0?'10⁰':datum.value==-1?'10⁻¹':datum.value==-2?'10⁻²':datum.value==-3?'10⁻³':'10⁻⁴'","title":"κ/γ"}}
 },
 "layer":[
  {"data":{"name":"b"},"transform":[{"filter":"datum.L<=0.1"}],"mark":{"type":"area","orient":"horizontal","interpolate":"catmull-rom","clip":true},"encoding":{"x2":{"datum":0},"detail":{"field":"L","type":"nominal"},"color":{"field":"L","type":"quantitative","scale":{"domain":[0,0.5,1,1.25,1.5,2,2.5,3,3.5,4,4.5,5],"range":["#8000ff","#4d4ffc","#1a96f3","#00b4ec","#1acee3","#4df3ce","#80ffb4","#b3f396","#e6ce74","#ff964f","#ff4f28","#ff0000"]},"legend":{"title":"Peak current: Ī₃/(NIₛ)","values":[0,1,2,3,4,5],"encode":{"labels":{"update":{"baseline":{"value":"middle"}}}}}}}},
  {"data":{"name":"b"},"transform":[{"filter":"datum.L>0.1"}],"mark":{"type":"area","orient":"vertical","interpolate":"catmull-rom","clip":true},"encoding":{"y2":{"datum":4},"detail":{"field":"L","type":"nominal"},"color":{"field":"L","type":"quantitative","scale":{"domain":[0,0.5,1,1.25,1.5,2,2.5,3,3.5,4,4.5,5],"range":["#8000ff","#4d4ffc","#1a96f3","#00b4ec","#1acee3","#4df3ce","#80ffb4","#b3f396","#e6ce74","#ff964f","#ff4f28","#ff0000"]},"legend":{"title":"Peak current: Ī₃/(NIₛ)","values":[0,1,2,3,4,5],"encode":{"labels":{"update":{"baseline":{"value":"middle"}}}}}}}},
  {"data":{"name":"b"},"transform":[{"filter":"datum.L==0.06"}],"mark":{"type":"line","color":"white","strokeWidth":0.6,"opacity":0.3,"interpolate":"catmull-rom","clip":true},"encoding":{"detail":{"field":"L","type":"nominal"},"order":{"field":"k","sort":"descending"}}},
  {"data":{"name":"b"},"transform":[{"filter":"!isValid(datum.s) && datum.L>0.1"}],"mark":{"type":"line","color":"white","strokeWidth":0.6,"opacity":0.3,"interpolate":"catmull-rom","clip":true},"encoding":{"detail":{"field":"L","type":"nominal"},"order":{"field":"t"}}},
  {"data":{"name":"b"},"transform":[{"filter":"isValid(datum.s) && datum.L<=0.1"}],"mark":{"type":"line","color":"black","strokeWidth":2,"interpolate":"catmull-rom","clip":true},"encoding":{"detail":[{"field":"L","type":"nominal"},{"field":"s","type":"nominal"}],"order":{"field":"k","sort":"descending"}}},
  {"data":{"name":"b"},"transform":[{"filter":"isValid(datum.s) && datum.L>0.1"}],"mark":{"type":"line","color":"black","strokeWidth":2,"interpolate":"catmull-rom","clip":true},"encoding":{"detail":[{"field":"L","type":"nominal"},{"field":"s","type":"nominal"}],"order":{"field":"t"}}},
  {"data":{"name":"labs"},"transform":[{"filter":"datum.p=='b'"}],"encoding":{"text":{"field":"txt"}},"layer":[
   {"transform":[{"filter":"datum.txt=='4.0'"}],"mark":{"type":"text","angle":-65}},
   {"transform":[{"filter":"datum.txt=='2.0'"}],"mark":{"type":"text","angle":-4}},
   {"transform":[{"filter":"datum.txt=='1.0'"}],"mark":{"type":"text","angle":-17}},
   {"transform":[{"filter":"datum.txt=='0.5'"}],"mark":{"type":"text","angle":-55}},
   {"transform":[{"filter":"datum.txt=='0.1'"}],"mark":{"type":"text","angle":-83}}
  ]}
 ]
},
{
 "width":360,"height":339,
 "title":{"text":"c","subtitle":"\u2800\u2800Sunlight configuration","dx":17},
 "encoding":{
  "x":{"field":"t","type":"quantitative","stack":null,"scale":{"domain":[0,90],"nice":false,"zero":false},"axis":{"values":[0,22.5,45,67.5,90],"labelExpr":"datum.value==0?'0':datum.value==22.5?'π/8':datum.value==45?'π/4':datum.value==67.5?'3π/8':'π/2'","title":"θ"}},
  "y":{"field":"k","type":"quantitative","stack":null,"scale":{"domain":[-4,4],"nice":false,"zero":false},"axis":{"values":[-4,-3,-2,-1,0,1,2,3,4],"labelExpr":"datum.value==4?'10⁴':datum.value==3?'10³':datum.value==2?'10²':datum.value==1?'10¹':datum.value==0?'10⁰':datum.value==-1?'10⁻¹':datum.value==-2?'10⁻²':datum.value==-3?'10⁻³':'10⁻⁴'","title":"κ/γ"}}
 },
 "layer":[
  {"data":{"name":"c"},"mark":{"type":"area","orient":"vertical","interpolate":"catmull-rom","clip":true},"encoding":{"y2":{"datum":4},"detail":{"field":"L","type":"nominal"},"color":{"field":"L","type":"quantitative","scale":{"domain":[0,0.5,1,1.25,1.5,2,2.5,3,3.5,4,4.5,5],"range":["#8000ff","#4d4ffc","#1a96f3","#00b4ec","#1acee3","#4df3ce","#80ffb4","#b3f396","#e6ce74","#ff964f","#ff4f28","#ff0000"]},"legend":{"title":"Current: I₃/(NIₛ)","values":[0,1,2,3,4,5],"encode":{"labels":{"update":{"baseline":{"value":"middle"}}}}}}}},
  {"data":{"name":"c"},"transform":[{"filter":"!isValid(datum.s) && datum.L>0.02 && datum.t<90"}],"mark":{"type":"line","color":"white","strokeWidth":0.6,"opacity":0.3,"interpolate":"catmull-rom","clip":true},"encoding":{"detail":{"field":"L","type":"nominal"},"order":{"field":"t"}}},
  {"data":{"name":"c"},"transform":[{"filter":"isValid(datum.s)"}],"mark":{"type":"line","color":"black","strokeWidth":2,"interpolate":"catmull-rom","clip":true},"encoding":{"detail":[{"field":"L","type":"nominal"},{"field":"s","type":"nominal"}],"order":{"field":"t"}}},
  {"data":{"name":"edge"},"mark":{"type":"line","color":"black","strokeWidth":1.8,"interpolate":"linear","clip":true},"encoding":{"detail":{"field":"id","type":"nominal"},"order":{"field":"k"}}},
  {"data":{"name":"labs"},"transform":[{"filter":"datum.p=='c'"}],"encoding":{"text":{"field":"txt"}},"layer":[
   {"transform":[{"filter":"datum.txt=='1.0'"}],"mark":{"type":"text","angle":12}},
   {"transform":[{"filter":"datum.txt=='0.5'"}],"mark":{"type":"text","angle":10}},
   {"transform":[{"filter":"datum.txt=='0.1'"}],"mark":{"type":"text","angle":4}}
  ]}
 ]
}
],
"resolve":{"scale":{"color":"independent"}}
}
